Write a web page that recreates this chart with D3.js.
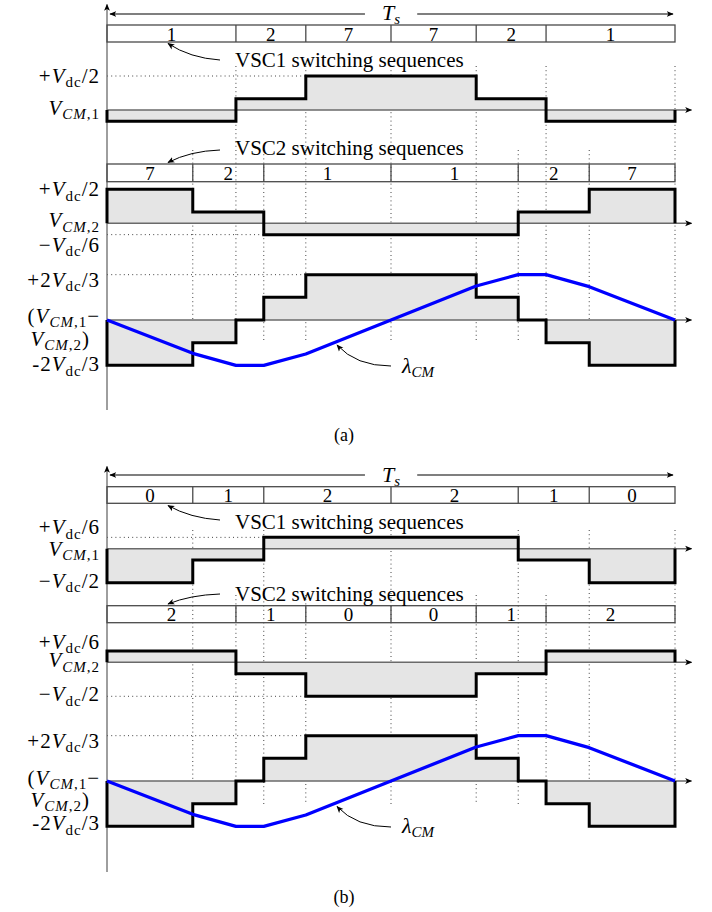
<!DOCTYPE html>
<html>
<head>
<meta charset="utf-8">
<title>VSC common-mode sequences</title>
<style>
  body { margin: 0; background: #fff; }
  svg text { font-family: "Liberation Serif", "Times New Roman", serif; fill: #000; }
</style>
</head>
<body>
<svg id="svg" font-family="Liberation Serif, Times New Roman, serif"></svg>
<script src="https://cdn.jsdelivr.net/npm/d3@7"></script>
<script>
// time axis in fractions of Ts (union of all switching instants)
const gridTimes = [0, 0.151, 0.227, 0.276, 0.35, 0.5, 0.65, 0.724, 0.773, 0.849, 1];

// (a) values in units of Vdc
const vsc1TimesA = [0, 0.227, 0.35, 0.5, 0.65, 0.773, 1];
const vsc1StatesA = ["1", "2", "7", "7", "2", "1"];
const vsc1CmA = [-1/6, 1/6, 1/2, 1/2, 1/6, -1/6];
const vsc2TimesA = [0, 0.151, 0.276, 0.5, 0.724, 0.849, 1];
const vsc2StatesA = ["7", "2", "1", "1", "2", "7"];
const vsc2CmA = [1/2, 1/6, -1/6, -1/6, 1/6, 1/2];
const diffCmA = [-2/3, -1/3, 0, 1/3, 2/3, 2/3, 1/3, 0, -1/3, -2/3];
const lambdaA = [0, -0.49, -0.667, -0.667, -0.5, 0, 0.5, 0.667, 0.667, 0.49, 0];

// (b)
const vsc1TimesB = [0, 0.151, 0.276, 0.5, 0.724, 0.849, 1];
const vsc1StatesB = ["0", "1", "2", "2", "1", "0"];
const vsc1CmB = [-1/2, -1/6, 1/6, 1/6, -1/6, -1/2];
const vsc2TimesB = [0, 0.227, 0.35, 0.5, 0.65, 0.773, 1];
const vsc2StatesB = ["2", "1", "0", "0", "1", "2"];
const vsc2CmB = [1/6, -1/6, -1/2, -1/2, -1/6, 1/6];
const diffCmB = [-2/3, -1/3, 0, 1/3, 2/3, 2/3, 1/3, 0, -1/3, -2/3];
const lambdaB = [0, -0.49, -0.667, -0.667, -0.5, 0, 0.5, 0.667, 0.667, 0.49, 0];

// tick labels: [text, style]  r roman, i italic, sr/si subscript
const lblPlusHalf = [[["+", "r"], ["V", "i"], ["dc", "sr"], ["/2", "r"]]];
const lblMinusHalf = [[["\u2212", "r"], ["V", "i"], ["dc", "sr"], ["/2", "r"]]];
const lblPlusSixth = [[["+", "r"], ["V", "i"], ["dc", "sr"], ["/6", "r"]]];
const lblMinusSixth = [[["\u2212", "r"], ["V", "i"], ["dc", "sr"], ["/6", "r"]]];
const lblPlusTwoThirds = [[["+2", "r"], ["V", "i"], ["dc", "sr"], ["/3", "r"]]];
const lblMinusTwoThirds = [[["-2", "r"], ["V", "i"], ["dc", "sr"], ["/3", "r"]]];
const lblVcm1 = [[["V", "i"], ["CM", "si"], [",1", "sr"]]];
const lblVcm2 = [[["V", "i"], ["CM", "si"], [",2", "sr"]]];
const lblDiff = [[["(", "r"], ["V", "i"], ["CM", "si"], [",1", "sr"], ["\u2212", "r"]],
                 [["V", "i"], ["CM", "si"], [",2", "sr"], [")", "r"]]];

const ticks1A = [1/2, 0], tickLabels1A = [lblPlusHalf, lblVcm1];
const ticks2A = [1/2, 0, -1/6], tickLabels2A = [lblPlusHalf, lblVcm2, lblMinusSixth];
const ticks3 = [2/3, 0, -2/3], tickLabels3 = [lblPlusTwoThirds, lblDiff, lblMinusTwoThirds];
const ticks1B = [1/6, 0, -1/2], tickLabels1B = [lblPlusSixth, lblVcm1, lblMinusHalf];
const ticks2B = [1/6, 0, -1/2], tickLabels2B = [lblPlusSixth, lblVcm2, lblMinusHalf];

const W = 712, H = 912;
const PX = 68;            // pixels per Vdc
const FILL = "#e5e5e5", GREY = "#6a6a6a";

const svg = d3.select("#svg").attr("width", W).attr("height", H);
const defs = svg.append("defs");
defs.append("marker").attr("id", "tip")
  .attr("viewBox", "0 0 10 10").attr("refX", 9).attr("refY", 5)
  .attr("markerWidth", 7).attr("markerHeight", 7)
  .attr("markerUnits", "userSpaceOnUse").attr("orient", "auto-start-reverse")
  .append("path").attr("d", "M0,0.8 L10,5 L0,9.2 L2.5,5 Z").attr("fill", "#000");

const x = d3.scaleLinear().domain([0, 1]).range([107, 675]);

function rich(g, parts, px, py, anchor, size, sub) {
  const t = g.append("text").attr("x", px).attr("y", py)
    .attr("text-anchor", anchor).style("font-size", size + "px");
  let shift = 0;
  parts.forEach(([s, st]) => {
    const isSub = st[0] === "s";
    const target = isSub ? size * 0.2 : 0;
    const ts = t.append("tspan").text(s)
      .style("font-style", st.endsWith("i") ? "italic" : "normal")
      .style("font-size", (isSub ? sub : size) + "px");
    if (target !== shift) { ts.attr("dy", target - shift); shift = target; }
  });
  return t;
}

function pointer(g, pts) {
  const [p0, c, p1] = pts;
  g.append("path").attr("d", `M${p0[0]},${p0[1]} Q${c[0]},${c[1]} ${p1[0]},${p1[1]}`)
    .attr("fill", "none").attr("stroke", "#000").attr("stroke-width", 1)
    .attr("marker-end", "url(#tip)");
}

function drawPanel(p) {
  const L = p.layout;
  const g = svg.append("g");
  const ys = L.zero.map(z => d3.scaleLinear().domain([-1, 1]).range([z + PX, z - PX]));
  const series = [
    { times: p.vsc1.times, cm: p.vsc1.cm },
    { times: p.vsc2.times, cm: p.vsc2.cm },
    { times: gridTimes, cm: p.diff }
  ];
  const same = (a, b) => Math.abs(a - b) < 1e-6;

  // vertical dotted grid at switching instants
  gridTimes.slice(1).forEach(t => {
    const top = p.vsc1.times.some(u => same(u, t)) ? L.gridTop[0] : L.gridTop[1];
    g.append("line").attr("x1", x(t)).attr("x2", x(t))
      .attr("y1", top).attr("y2", L.gridBottom)
      .attr("stroke", "#444").attr("stroke-width", 1).attr("stroke-dasharray", "1,3.2");
  });

  // horizontal dotted guides up to the first segment reaching a tick level
  series.forEach((s, k) => {
    p.ticks[k].forEach(v => {
      if (same(v, 0)) return;
      const i = s.cm.findIndex(c => same(c, v));
      if (i <= 0) return;
      g.append("line").attr("x1", x(0)).attr("x2", x(s.times[i]))
        .attr("y1", ys[k](v)).attr("y2", ys[k](v))
        .attr("stroke", "#444").attr("stroke-width", 1).attr("stroke-dasharray", "1,3.2");
    });
  });

  // vertical axis
  g.append("line").attr("x1", x(0)).attr("x2", x(0))
    .attr("y1", L.axisBottom).attr("y2", L.axisTop)
    .attr("stroke", GREY).attr("stroke-width", 1.3).attr("marker-end", "url(#tip)");

  // filled step areas
  series.forEach((s, k) => {
    const pts = s.cm.map((v, i) => [s.times[i], v]);
    pts.push([s.times[s.times.length - 1], s.cm[s.cm.length - 1]]);
    s.pts = pts;
    g.append("path").datum(pts)
      .attr("d", d3.area().curve(d3.curveStepAfter)
        .x(d => x(d[0])).y0(ys[k](0)).y1(d => ys[k](d[1])))
      .attr("fill", FILL);
  });

  // zero axes
  ys.forEach(y => {
    g.append("line").attr("x1", x(0)).attr("x2", 691.5)
      .attr("y1", y(0)).attr("y2", y(0))
      .attr("stroke", GREY).attr("stroke-width", 1.4).attr("marker-end", "url(#tip)");
  });

  // step outlines
  series.forEach((s, k) => {
    const outline = [[0, 0], ...s.pts, [1, 0]];
    g.append("path").datum(outline)
      .attr("d", d3.line().curve(d3.curveStepAfter).x(d => x(d[0])).y(d => ys[k](d[1])))
      .attr("fill", "none").attr("stroke", "#000").attr("stroke-width", 3)
      .attr("stroke-linejoin", "miter");
  });

  // lambda_CM
  g.append("path").datum(p.lambda)
    .attr("d", d3.line().x((d, i) => x(gridTimes[i])).y(d => ys[2](d)))
    .attr("fill", "none").attr("stroke", "#0000ff").attr("stroke-width", 3.3)
    .attr("stroke-linejoin", "round");

  // switching-sequence boxes
  [[p.vsc1, L.box1], [p.vsc2, L.box2]].forEach(([seq, [top, bot]]) => {
    g.append("rect").attr("x", x(0)).attr("y", top)
      .attr("width", x(1) - x(0)).attr("height", bot - top)
      .attr("fill", "none").attr("stroke", "#4a4a4a").attr("stroke-width", 1.3);
    seq.times.slice(1, -1).forEach(t => {
      g.append("line").attr("x1", x(t)).attr("x2", x(t)).attr("y1", top).attr("y2", bot)
        .attr("stroke", "#4a4a4a").attr("stroke-width", 1.3);
    });
    seq.states.forEach((s, i) => {
      g.append("text").attr("x", x((seq.times[i] + seq.times[i + 1]) / 2)).attr("y", bot - 1.5)
        .attr("text-anchor", "middle").style("font-size", "19px").text(s);
    });
  });

  // Ts arrow
  g.append("line").attr("x1", 110).attr("x2", 673).attr("y1", L.tsY).attr("y2", L.tsY)
    .attr("stroke", "#000").attr("stroke-width", 1.1)
    .attr("marker-start", "url(#tip)").attr("marker-end", "url(#tip)");
  const mask = g.append("rect").attr("fill", "#fff");
  const ts = rich(g, [["T", "i"], ["s", "si"]], x(0.5), L.tsBase, "middle", 22, 15);
  const bb = ts.node().getBBox();
  mask.attr("x", bb.x - 17).attr("y", L.tsY - 3).attr("width", bb.width + 34).attr("height", 6);

  // tick labels
  p.tickLabels.forEach((labels, k) => {
    labels.forEach((lines, j) => {
      const yb = ys[k](p.ticks[k][j]) + L.labelOff[k][j];
      lines.forEach((parts, m) => {
        const t = rich(g, parts, m === 0 ? 100 : 90, yb + m * L.secondLine, "end", 21, 15);
        t.style("letter-spacing", "1px");
      });
    });
  });

  // annotations
  g.append("text").attr("x", L.vsc1Text[0]).attr("y", L.vsc1Text[1])
    .style("font-size", "21px").text("VSC1 switching sequences");
  g.append("text").attr("x", L.vsc2Text[0]).attr("y", L.vsc2Text[1])
    .style("font-size", "21px").text("VSC2 switching sequences");
  pointer(g, L.arrow1);
  pointer(g, L.arrow2);
  rich(g, [["\u03bb", "i"], ["CM", "si"]], L.lambdaText[0], L.lambdaText[1], "start", 22, 15);
  pointer(g, L.lambdaArrow);

  g.append("text").attr("x", L.caption[0]).attr("y", L.caption[1])
    .attr("text-anchor", "middle").style("font-size", "18px").text(p.caption);
}

drawPanel({
  caption: "(a)",
  vsc1: { times: vsc1TimesA, states: vsc1StatesA, cm: vsc1CmA },
  vsc2: { times: vsc2TimesA, states: vsc2StatesA, cm: vsc2CmA },
  diff: diffCmA, lambda: lambdaA,
  ticks: [ticks1A, ticks2A, ticks3],
  tickLabels: [tickLabels1A, tickLabels2A, tickLabels3],
  layout: {
    tsY: 14, tsBase: 20, box1: [25, 42], box2: [164, 181.7],
    zero: [110, 223.3, 320],
    labelOff: [[7, 5], [7, 4, 17], [12, 3, 6]], secondLine: 23,
    gridTop: [66, 150], gridBottom: 342, axisTop: 4.5, axisBottom: 410,
    vsc1Text: [235, 66.5], vsc2Text: [235, 154.5],
    arrow1: [[220, 60], [190, 58], [168, 43.5]],
    arrow2: [[220, 150], [190, 151], [168, 162.5]],
    lambdaText: [402, 373], lambdaArrow: [[391, 366], [356, 366], [337, 345]],
    caption: [344, 441]
  }
});

drawPanel({
  caption: "(b)",
  vsc1: { times: vsc1TimesB, states: vsc1StatesB, cm: vsc1CmB },
  vsc2: { times: vsc2TimesB, states: vsc2StatesB, cm: vsc2CmB },
  diff: diffCmB, lambda: lambdaB,
  ticks: [ticks1B, ticks2B, ticks3],
  tickLabels: [tickLabels1B, tickLabels2B, tickLabels3],
  layout: {
    tsY: 475, tsBase: 481.7, box1: [486.7, 503.3], box2: [605.7, 622.7],
    zero: [548.7, 662.3, 781],
    labelOff: [[-3, 7, 5], [-2, 5, 5], [12, 4, 4]], secondLine: 22,
    gridTop: [530, 595], gridBottom: 805, axisTop: 466.5, axisBottom: 872,
    vsc1Text: [235, 528.5], vsc2Text: [235, 600.5],
    arrow1: [[220, 520], [190, 518], [168, 505.5]],
    arrow2: [[220, 594], [190, 595], [168, 604]],
    lambdaText: [402, 833], lambdaArrow: [[391, 827], [356, 827], [337, 806.5]],
    caption: [344, 903]
  }
});
</script>
</body>
</html>
